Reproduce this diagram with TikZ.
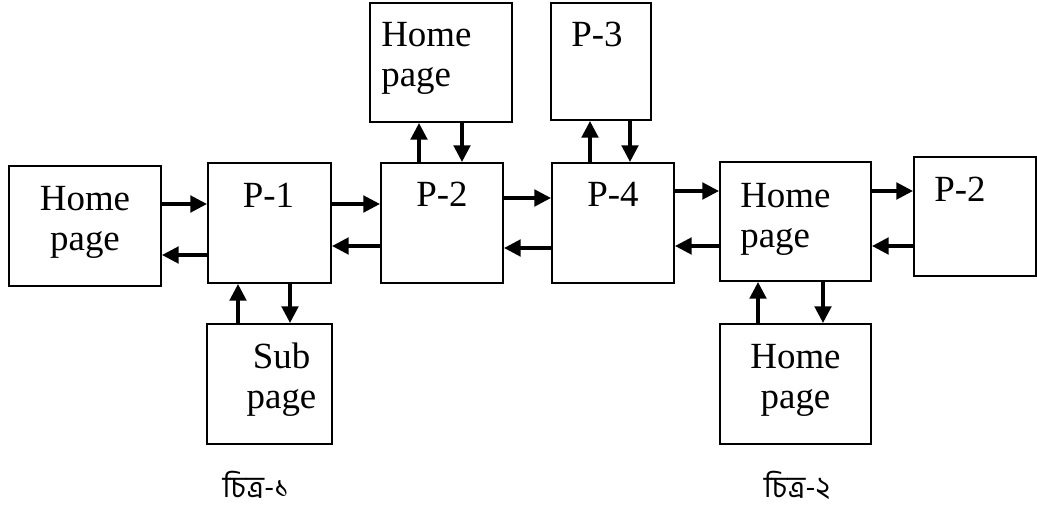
\documentclass[tikz,border=0pt]{standalone}
\usepackage{fontspec}
\setmainfont{Liberation Serif}
\newfontfamily\bnfont[Script=Bengali]{Hind Siliguri}
\usetikzlibrary{calc,arrows.meta}

\tikzset{
  pg/.style={draw, line width=1.2pt, inner sep=0pt},
  lbl/.style={inner sep=0pt, font=\fontsize{21}{23.2}\selectfont},
  arr/.style={line width=1.8pt, -{Triangle[length=9.5pt,width=9.5pt]}},
  figcap/.style={inner sep=0pt, font=\bnfont\fontsize{17}{20}\selectfont}
}

\begin{document}
\begin{tikzpicture}[x=0.02cm,y=-0.02cm]
    \useasboundingbox (0,0) rectangle (1037,510);

    \node[pg, minimum width=3.04cm, minimum height=2.40cm] (home1) at (85,226) {};
    \node[pg, minimum width=2.46cm, minimum height=2.40cm] (p1) at (269.5,223) {};
    \node[pg, minimum width=2.50cm, minimum height=2.40cm] (sub) at (269.5,384) {};
    \node[pg, minimum width=2.84cm, minimum height=2.38cm] (hometop) at (441,62.5) {};
    \node[pg, minimum width=2.44cm, minimum height=2.40cm] (p2) at (442,223) {};
    \node[pg, minimum width=2.00cm, minimum height=2.34cm] (p3) at (601,61.5) {};
    \node[pg, minimum width=2.44cm, minimum height=2.40cm] (p4) at (613,223) {};
    \node[pg, minimum width=3.02cm, minimum height=2.38cm] (homemid) at (795.5,221.5) {};
    \node[pg, minimum width=2.44cm, minimum height=2.38cm] (p2r) at (975,216.5) {};
    \node[pg, minimum width=3.02cm, minimum height=2.40cm] (homebot) at (795.5,384) {};

    \node[lbl, align=center, anchor=base] (home1txt) at ($(home1.north)+(0,86)$) {Home\\page};
    \node[lbl, anchor=base] (p1txt) at ($(p1.north)+(-1,46)$) {P-1};
    \node[lbl, align=center, anchor=base] (subtxt) at ($(sub.north)+(12,86)$) {Sub\\page};
    \node[lbl, align=left, anchor=base west] (hometoptxt) at ($(hometop.north west)+(12,85)$) {Home\\page};
    \node[lbl, anchor=base] (p2txt) at ($(p2.north)+(0,45)$) {P-2};
    \node[lbl, anchor=base west] (p3txt) at ($(p3.north west)+(21,45)$) {P-3};
    \node[lbl, anchor=base] (p4txt) at ($(p4.north)+(0,45)$) {P-4};
    \node[lbl, align=left, anchor=base west] (homemidtxt) at ($(homemid.north west)+(21,87)$) {Home\\page};
    \node[lbl, anchor=base west] (p2rtxt) at ($(p2r.north west)+(21,46)$) {P-2};
    \node[lbl, align=center, anchor=base] (homebottxt) at ($(homebot.north)+(0,86)$) {Home\\page};

    \node[figcap, anchor=base] (cap1) at (256,497) {চিত্র-১};
    \node[figcap, anchor=base] (cap2) at (797,497) {চিত্র-২};

    \draw[arr] (home1.east |- 0,204) -- (p1.west |- 0,204);
    \draw[arr] (p1.west |- 0,255) -- (home1.east |- 0,255);
    \draw[arr] (p1.east |- 0,204) -- (p2.west |- 0,204);
    \draw[arr] (p2.west |- 0,246) -- (p1.east |- 0,246);
    \draw[arr] (p2.east |- 0,198) -- (p4.west |- 0,198);
    \draw[arr] (p4.west |- 0,248) -- (p2.east |- 0,248);
    \draw[arr] (p4.east |- 0,191) -- (homemid.west |- 0,191);
    \draw[arr] (homemid.west |- 0,246) -- (p4.east |- 0,246);
    \draw[arr] (homemid.east |- 0,191) -- (p2r.west |- 0,191);
    \draw[arr] (p2r.west |- 0,246) -- (homemid.east |- 0,246);

    \draw[arr] (p2.north -| 419,0) -- (hometop.south -| 419,0);
    \draw[arr] (hometop.south -| 462,0) -- (p2.north -| 462,0);
    \draw[arr] (p4.north -| 590,0) -- (p3.south -| 590,0);
    \draw[arr] (p3.south -| 630,0) -- (p4.north -| 630,0);
    \draw[arr] (sub.north -| 238,0) -- (p1.south -| 238,0);
    \draw[arr] (p1.south -| 290,0) -- (sub.north -| 290,0);
    \draw[arr] (homebot.north -| 758,0) -- (homemid.south -| 758,0);
    \draw[arr] (homemid.south -| 823,0) -- (homebot.north -| 823,0);
\end{tikzpicture}
\end{document}
